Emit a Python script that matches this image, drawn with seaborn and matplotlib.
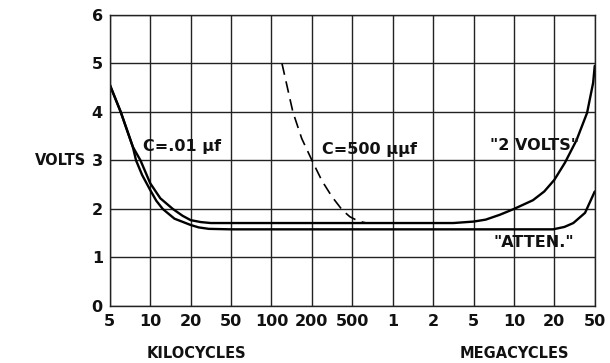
import matplotlib
matplotlib.use("Agg")
import matplotlib.pyplot as plt
import seaborn as sns
import pandas as pd

# Frequency tick labels (equally spaced on the chart grid, 1-2-5 steps)
freq_labels = ["5", "10", "20", "50", "100", "200", "500", "1", "2", "5", "10", "20", "50"]
volt_ticks = [0, 1, 2, 3, 4, 5, 6]

# "2 VOLTS" curve: position along the frequency grid (0 = 5 kc ... 12 = 50 Mc), volts
volts2_pos = [0, 0.27, 0.57, 0.76, 1.0, 1.25, 1.56, 1.8, 2.0, 2.25, 2.5, 3, 4, 5, 6, 7, 8, 8.5,
              9.0, 9.3, 9.65, 10.0, 10.47, 10.75, 11.0, 11.26, 11.55, 11.81, 11.96, 12.0]
volts2_val = [4.56, 4.0, 3.28, 3.0, 2.53, 2.22, 2.0, 1.86, 1.77, 1.73, 1.71, 1.71, 1.71, 1.71, 1.71,
              1.71, 1.71, 1.71, 1.74, 1.78, 1.88, 2.0, 2.18, 2.36, 2.6, 2.95, 3.42, 3.98, 4.6, 4.95]

# "ATTEN." curve
atten_pos = [0, 0.27, 0.57, 0.65, 0.8, 1.0, 1.15, 1.31, 1.6, 2.0, 2.2, 2.45, 3, 4, 5, 6, 7, 8, 9, 10,
             10.97, 11.25, 11.47, 11.76, 12.0]
atten_val = [4.56, 4.0, 3.28, 3.0, 2.7, 2.39, 2.17, 2.0, 1.8, 1.67, 1.62, 1.59, 1.58, 1.58, 1.58,
             1.58, 1.58, 1.58, 1.58, 1.58, 1.58, 1.63, 1.71, 1.92, 2.36]

# C = 500 uuf curve (dashed)
c500_pos = [4.26, 4.53, 4.75, 5.02, 5.25, 5.5, 5.75, 5.94, 6.15, 6.35]
c500_val = [5.0, 4.0, 3.45, 2.97, 2.58, 2.25, 1.98, 1.84, 1.75, 1.71]

sns.set_style("white")
plt.rcParams["font.family"] = ["DejaVu Sans"]

df = pd.concat([
    pd.DataFrame({"pos": volts2_pos, "volts": volts2_val, "curve": "2 VOLTS"}),
    pd.DataFrame({"pos": atten_pos, "volts": atten_val, "curve": "ATTEN"}),
    pd.DataFrame({"pos": c500_pos, "volts": c500_val, "curve": "C500"}),
], ignore_index=True)

fig = plt.figure(figsize=(6.10, 3.63), dpi=100)
ax = fig.add_axes([0.180, 0.157, 0.795, 0.802])

for name in ["2 VOLTS", "ATTEN"]:
    sns.lineplot(data=df[df.curve == name], x="pos", y="volts", sort=False,
                 color="black", linewidth=1.7, ax=ax, estimator=None)
sns.lineplot(data=df[df.curve == "C500"], x="pos", y="volts", sort=False,
             color="black", linewidth=1.2, ax=ax, estimator=None,
             linestyle=(0, (7, 4)))

ax.set_xlim(0, 12)
ax.set_ylim(0, 6)
ax.set_xticks(range(len(freq_labels)))
ax.set_xticklabels(freq_labels)
ax.set_yticks(volt_ticks)
ax.set_yticklabels([str(v) for v in volt_ticks])
ax.grid(True, color="#222222", linewidth=1.0)
ax.set_axisbelow(True)
for s in ax.spines.values():
    s.set_visible(True)
    s.set_color("#222222")
    s.set_linewidth(1.0)
ax.tick_params(axis="both", length=0, labelsize=11.5, colors="#111111")
ax.tick_params(axis="x", pad=6)
ax.tick_params(axis="y", pad=5)
for lbl in ax.get_xticklabels() + ax.get_yticklabels():
    lbl.set_fontweight("bold")
ax.set_xlabel("")
ax.set_ylabel("")

tk = dict(fontsize=10.5, fontweight="bold", color="#111111")
fig.text(35 / 610, 1 - 161 / 363, "VOLTS", ha="left", va="center", **tk)
fig.text(196 / 610, 1 - 353 / 363, "KILOCYCLES", ha="center", va="center", **tk)
fig.text(514 / 610, 1 - 353 / 363, "MEGACYCLES", ha="center", va="center", **tk)

lk = dict(fontsize=11.5, fontweight="bold", color="#111111")
ax.text(0.83, 3.28, "C=.01 µf", ha="left", va="center", **lk)
ax.text(5.25, 3.22, "C=500 µµf", ha="left", va="center", **lk)
ax.text(11.6, 3.3, '"2 VOLTS"', ha="right", va="center", **lk)
ax.text(11.5, 1.3, '"ATTEN."', ha="right", va="center", **lk)

fig.savefig("out.png", dpi=100, facecolor="white")
